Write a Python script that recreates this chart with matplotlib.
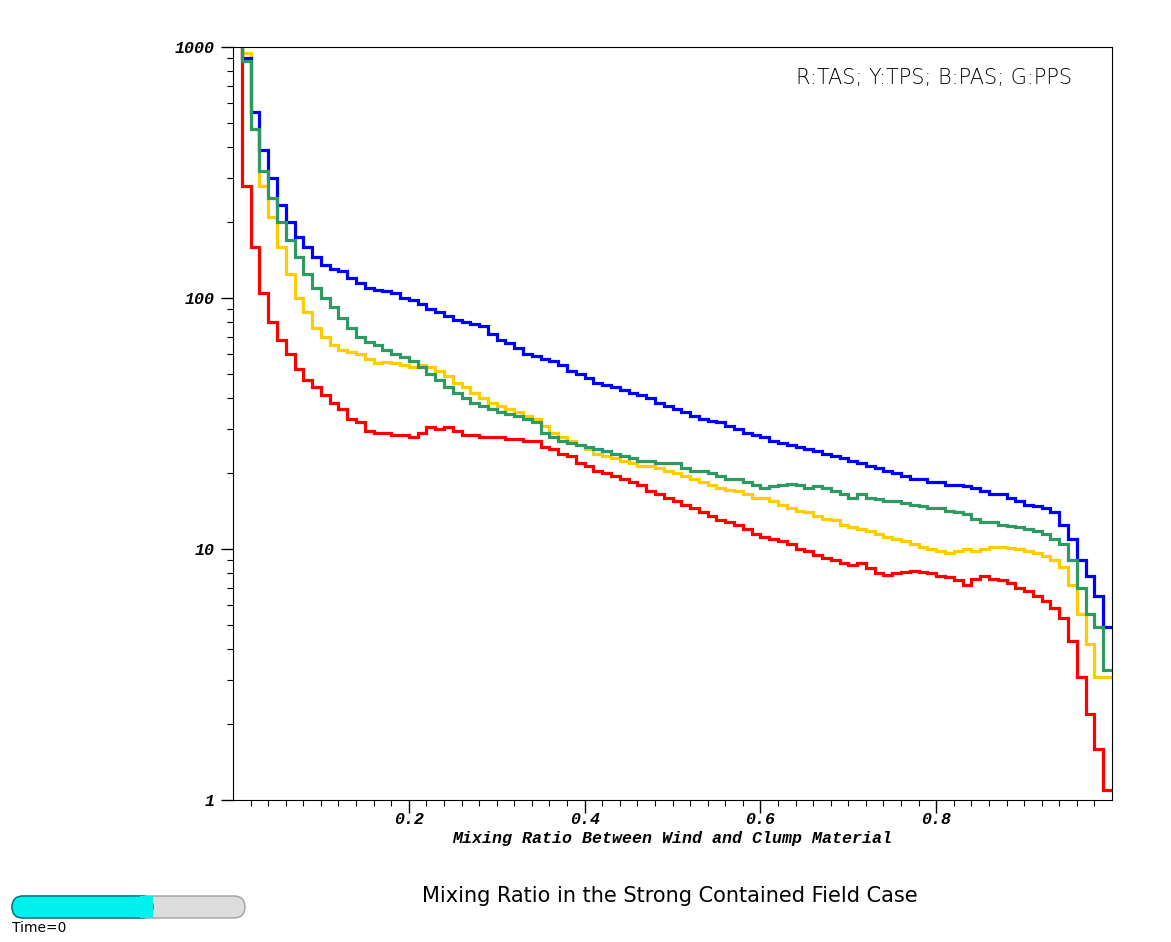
import numpy as np
import matplotlib
matplotlib.use("Agg")
import matplotlib.pyplot as plt
from matplotlib.patches import FancyBboxPatch

bin_edges = np.linspace(0, 1, 101)

blue_pas = [3000,
    900,550,390,300,235,200,175,160,145,
    135,130,128,120,115,110,108,107,105,100,
    98,95,90,88,85,82,80,79,77,72,
    68,66,63,60,59,57,56,54,51,50,
    48,46,45,44,43,42,41,40,38,37,
    36,35,34,33,32.5,32,31,30,29,28.5,
    28,27,26.5,26,25.5,25,24.5,24,23.5,23,
    22.5,22,21.5,21,20.5,20,19.5,19,19,18.5,
    18.5,18,18,17.8,17.5,17,16.5,16.5,16,15.5,
    15,14.8,14.5,14,12.5,11,9,7.8,6.5,4.9]

red_tas = [3000,
    280,160,105,80,68,60,52,47,44,
    41,38,36,33,32,29.5,29,29,28.5,28.5,
    28,29,30.5,30,30.5,29.5,28.5,28.5,28,28,
    28,27.5,27.5,27,27,25.5,25,24,23.5,22,
    21.5,20.5,20,19.5,19,18.5,18,17,16.5,16,
    15.5,15,14.5,14,13.5,13,12.8,12.5,12,11.5,
    11.2,11,10.8,10.5,10,9.8,9.5,9.2,9.0,8.8,
    8.6,8.8,8.4,8.0,7.9,8.0,8.1,8.2,8.1,8.0,
    7.8,7.7,7.5,7.2,7.6,7.8,7.6,7.5,7.3,7.0,
    6.8,6.5,6.2,5.8,5.3,4.3,3.1,2.2,1.6,1.1]

yellow_tps = [3000,
    950,470,280,210,160,125,100,88,76,
    70,65,62,61,60,57,55,55.5,55,54,
    53,54,53,51,49,46,44,42,40,38,
    37,36,35,34,33,31,29,28,27,26,
    25,24,23.5,23,22.5,22,21.5,21.5,21,20.5,
    20,19.5,19,18.5,18,17.5,17.2,17,16.5,16,
    16,15.5,15,14.5,14.2,14,13.5,13.2,13,12.5,
    12.2,12,11.8,11.5,11.2,11,10.8,10.5,10.2,10,
    9.8,9.6,9.8,10,9.8,10,10.2,10.2,10.1,10.0,
    9.8,9.6,9.4,9.0,8.5,7.2,5.5,4.2,3.1,3.1]

green_pps = [3000,
    880,470,320,250,200,170,145,125,110,
    100,92,83,76,70,67,65,62,60,58,
    56,53,50,47,44,42,40,38,37,36,
    35,34.5,34,33,32,29,28,27,26.5,26,
    25.5,25,24.5,24,23.5,23,22.5,22.5,22,22,
    22,21,20.5,20.5,20,19.5,19,19,18.5,18,
    17.5,17.8,18,18.2,18,17.5,17.8,17.5,17,16.5,
    16,16.5,16,15.8,15.5,15.5,15.2,15,14.8,14.5,
    14.5,14.2,14,13.8,13.2,12.8,12.8,12.5,12.3,12.2,
    12,11.8,11.5,11,10.5,9,7,5.5,4.9,3.3]

xticks = [0.2, 0.4, 0.6, 0.8]
xtick_labels = ["0.2", "0.4", "0.6", "0.8"]
yticks = [1, 10, 100, 1000]
ytick_labels = ["1", "10", "100", "1000"]

fig = plt.figure(figsize=(11.71, 9.42), dpi=100)
ax = fig.add_axes([233/1171, 1-800/942, (1112-233)/1171, (800-47)/942])
series = [(red_tas, "#ff0000"), (yellow_tps, "#ffcc00"), (green_pps, "#2e9960"), (blue_pas, "#0000ff")]
for vals, col in [series[0], series[1], series[3], series[2]]:
    ax.stairs(vals, bin_edges, color=col, linewidth=2.3, baseline=None)
ax.set_yscale("log")
ax.set_xlim(0, 1)
ax.set_ylim(1, 1000)
mono = dict(family="Liberation Mono", weight="bold", style="italic", size=12)
ax.set_xticks(xticks)
ax.set_xticklabels(xtick_labels, fontdict=mono)
ax.set_yticks(yticks)
ax.set_yticklabels(ytick_labels, fontdict=mono)
ax.set_xticks(np.arange(0.02, 1.0, 0.02), minor=True)
ax.tick_params(which="major", length=9, width=1, direction="out", pad=4)
ax.tick_params(axis="x", which="major", pad=0)
ax.tick_params(which="minor", length=4, width=0.8, direction="out")
fig.text(672/1171, 1-838/942, "Mixing Ratio Between Wind and Clump Material",
         ha="center", va="center", **mono)
ax.text(0.955, 0.972, "R:TAS; Y:TPS; B:PAS; G:PPS", transform=ax.transAxes,
        ha="right", va="top", fontsize=15, family="DejaVu Sans", fontweight="light")

fig.text(670/1171, 1-896/942, "Mixing Ratio in the Strong Contained Field Case",
         ha="center", va="center", fontsize=15, family="DejaVu Sans")
bar_ax = fig.add_axes([0, 0, 1, 1], facecolor="none")
bar_ax.set_xlim(0, 1171); bar_ax.set_ylim(942, 0); bar_ax.axis("off")
bar_ax.add_patch(FancyBboxPatch((12, 896), 233, 22, boxstyle="round,pad=0,rounding_size=11",
                                facecolor="#dcdcdc", edgecolor="#a0a0a0", linewidth=1))
bar_ax.add_patch(FancyBboxPatch((12, 896), 141, 22, boxstyle="round,pad=0,rounding_size=11",
                                facecolor="#00f0f0", edgecolor="#007070", linewidth=1))
bar_ax.add_patch(FancyBboxPatch((140, 896), 13, 22, boxstyle="square,pad=0",
                                facecolor="#00f0f0", edgecolor="none"))
bar_ax.text(12, 928, "Time=0", fontsize=10, va="center", ha="left")

fig.savefig("out.png", dpi=100)
